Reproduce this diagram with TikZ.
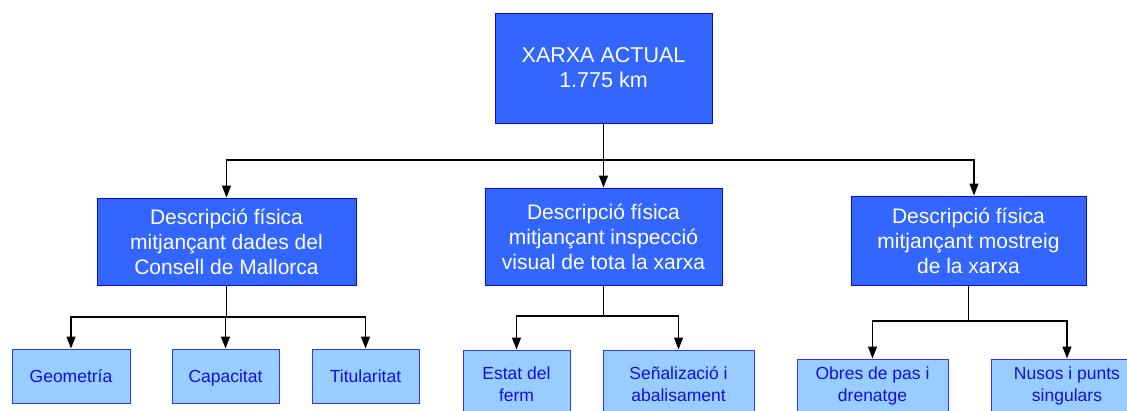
\documentclass[tikz,border=0pt]{standalone}
\usepackage{fontspec}
\setmainfont{Liberation Sans}
\usetikzlibrary{arrows.meta}
\definecolor{darkfill}{HTML}{3366FF}
\definecolor{darkedge}{HTML}{0A0AD8}
\definecolor{lightfill}{HTML}{99CCFF}
\definecolor{lightedge}{HTML}{3333FF}
\definecolor{lighttext}{HTML}{1010E0}
\tikzset{
  bigbox/.style={draw=darkedge, fill=darkfill, line width=1pt, inner sep=0pt, align=center,
    text=white, font=\fontsize{21}{25}\selectfont},
  smallbox/.style={draw=lightedge, fill=lightfill, line width=1pt, inner sep=0pt, align=center,
    text=lighttext, font=\fontsize{17.5}{22}\selectfont},
  oneline/.style={text height=15pt, text depth=2pt},
  conn/.style={draw=black, line width=1.3pt},
  arr/.style={conn, -{Triangle[length=12pt,width=9pt]}},
}
\begin{document}
\begin{tikzpicture}[x=1pt,y=-1pt]
\useasboundingbox (0,0) rectangle (1127,410);
\clip (0,0) rectangle (1127,410);
% top
\node[bigbox, font=\fontsize{21.5}{25}\selectfont, minimum width=217pt, minimum height=110pt] (top) at (603.5,68) {XARXA ACTUAL\\1.775 km};
% level 2
\node[bigbox, minimum width=259pt, minimum height=87pt] (b1) at (226.5,241.5) {Descripció física\\mitjançant dades del\\Consell de Mallorca};
\node[bigbox, minimum width=237pt, minimum height=97pt] (b2) at (603.5,236.5) {Descripció física\\mitjançant inspecció\\visual de tota la xarxa};
\node[bigbox, minimum width=235pt, minimum height=89pt] (b3) at (968.5,240.5) {Descripció física\\mitjançant mostreig\\de la xarxa};
% level 3
\node[smallbox, oneline, minimum width=118pt, minimum height=54pt] (geo) at (71,376) {Geometría};
\node[smallbox, oneline, minimum width=107pt, minimum height=54pt] (cap) at (225.5,376) {Capacitat};
\node[smallbox, oneline, minimum width=107pt, minimum height=54pt] (tit) at (365.5,376) {Titularitat};
\node[smallbox, minimum width=107pt, minimum height=68pt] (estat) at (516.5,384) {Estat del\\ferm};
\node[smallbox, minimum width=151pt, minimum height=68pt] (senal) at (678.5,384) {Señalizació i\\abalisament};
\node[smallbox, minimum width=151pt, minimum height=54pt] (obres) at (872.5,386) {Obres de pas i\\drenatge};
\node[smallbox, minimum width=152pt, minimum height=54pt] (nusos) at (1067,386) {Nusos i punts\\singulars};
% junctions
\coordinate (j1) at (603.5,160);
\coordinate (j2) at (226.5,317);
\coordinate (j3) at (603.5,316);
\coordinate (j4) at (968.5,321);
% connectors level 1
\draw[conn] (top.south) -- (j1);
\draw[arr] (j1) -| (b1.north);
\draw[arr] (j1) -- (b2.north);
\draw[arr] (j1) -| ([xshift=5.5pt]b3.north);
% connectors level 2
\draw[conn] (b1.south) -- (j2);
\draw[arr] (j2) -| (geo.north);
\draw[arr] (j2) -| (tit.north);
\draw[arr] (cap.north |- j2) -- (cap.north);
\draw[conn] (b2.south) -- (j3);
\draw[arr] (j3) -| (estat.north);
\draw[arr] (j3) -| (senal.north);
\draw[conn] (b3.south) -- (j4);
\draw[arr] (j4) -| (obres.north);
\draw[arr] (j4) -| (nusos.north);
\end{tikzpicture}
\end{document}
